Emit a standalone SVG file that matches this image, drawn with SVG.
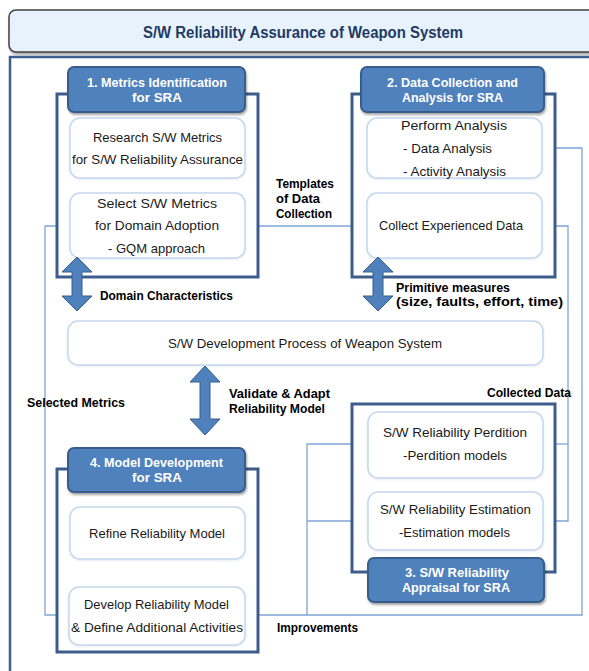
<svg xmlns="http://www.w3.org/2000/svg" width="589" height="671" viewBox="0 0 589 671">
<style>
.frame{fill:none;stroke:#3b5f8e;stroke-width:2.5}
.stage{fill:#fff;stroke:#3c5d8c;stroke-width:3}
.hdr{fill:#4f81bd;stroke:#385d8a;stroke-width:2}
.hdrt{font-family:"Liberation Sans",Arial,sans-serif;font-weight:bold;font-size:13.5px;fill:#fff;text-anchor:middle}
.box{fill:#fff;stroke:#c6d8ef;stroke-width:1.5}
.bt{font-family:"Liberation Sans",Arial,sans-serif;font-size:13px;fill:#1a1a1a}
.c{text-anchor:middle}
.lbl{font-family:"Liberation Sans",Arial,sans-serif;font-weight:bold;font-size:13px;fill:#000}
.con{fill:none;stroke:#7fa5d5;stroke-width:1.3}
.big{fill:#4f81bd;stroke:#385d8a;stroke-width:1}
</style>
<defs>
<marker id="ah" viewBox="0 0 10 10" refX="9" refY="5" markerWidth="10" markerHeight="10" markerUnits="userSpaceOnUse" orient="auto">
<path d="M1,1 L9,5 L1,9" fill="none" stroke="#7fa5d5" stroke-width="1.3"/>
</marker>
<filter id="sh" x="-10%" y="-10%" width="120%" height="130%">
<feDropShadow dx="1" dy="2" stdDeviation="1.2" flood-color="#000" flood-opacity="0.35"/>
</filter>
<filter id="ls" x="-10%" y="-10%" width="120%" height="130%">
<feDropShadow dx="0" dy="1" stdDeviation="1" flood-color="#8fa8c8" flood-opacity="0.25"/>
</filter>
</defs>
<rect width="589" height="671" fill="#fff"/>

<g id="title">
<rect x="9" y="10" width="600" height="42" rx="7" fill="#e8f2fc" stroke="#404040" stroke-width="1.5" filter="url(#sh)"/>
<text x="303" y="38" font-family="'Liberation Sans',Arial,sans-serif" font-weight="bold" font-size="16" fill="#1f3a63" text-anchor="middle" textLength="320" lengthAdjust="spacingAndGlyphs">S/W Reliability Assurance of Weapon System</text>
</g>

<rect class="frame" x="10" y="57" width="600" height="640"/>

<g id="connectors">
<line class="con" x1="157" y1="178" x2="157" y2="191" marker-end="url(#ah)"/>
<line class="con" x1="245" y1="226" x2="366" y2="226" marker-end="url(#ah)"/>
<line class="con" x1="454" y1="193" x2="454" y2="179" marker-end="url(#ah)"/>
<polyline class="con" points="542,148 582,148 582,615 246,615" marker-end="url(#ah)"/>
<polyline class="con" points="542,226 568,226 568,521 544,521" marker-end="url(#ah)"/>
<line class="con" x1="568" y1="444" x2="544" y2="444" marker-end="url(#ah)"/>
<polyline class="con" points="368,444 307,444 307,615"/>
<line class="con" x1="368" y1="521" x2="307" y2="521"/>
<polyline class="con" points="70,226 45,226 45,615 68,615" marker-end="url(#ah)"/>
<line class="con" x1="455" y1="478" x2="455" y2="491" marker-end="url(#ah)"/>
<line class="con" x1="157" y1="587" x2="157" y2="560" marker-end="url(#ah)"/>
<text class="lbl" x="276" y="188" textLength="58" lengthAdjust="spacingAndGlyphs">Templates</text>
<text class="lbl" x="276" y="203" textLength="44" lengthAdjust="spacingAndGlyphs">of Data</text>
<text class="lbl" x="276" y="218" textLength="56" lengthAdjust="spacingAndGlyphs">Collection</text>
<text class="lbl" x="100" y="300" textLength="133" lengthAdjust="spacingAndGlyphs">Domain Characteristics</text>
<text class="lbl" x="396" y="292" font-size="12" textLength="114" lengthAdjust="spacingAndGlyphs">Primitive measures</text>
<text class="lbl" x="396" y="306" font-size="12" textLength="167" lengthAdjust="spacingAndGlyphs">(size, faults, effort, time)</text>
<text class="lbl" x="229" y="398" textLength="101" lengthAdjust="spacingAndGlyphs">Validate &amp; Adapt</text>
<text class="lbl" x="229" y="413" textLength="96" lengthAdjust="spacingAndGlyphs">Reliability Model</text>
<text class="lbl" x="27" y="407" textLength="98" lengthAdjust="spacingAndGlyphs">Selected Metrics</text>
<text class="lbl" x="487" y="397" textLength="84" lengthAdjust="spacingAndGlyphs">Collected Data</text>
<text class="lbl" x="277" y="632" textLength="81" lengthAdjust="spacingAndGlyphs">Improvements</text>
<text class="bt" x="167" y="579" textLength="47" lengthAdjust="spacingAndGlyphs">tailoring</text>
</g>

<g id="stage1">
<rect class="stage" x="57" y="94" width="201" height="183"/>
<rect class="hdr" x="68" y="67" width="177" height="45" rx="6" filter="url(#sh)"/>
<text class="hdrt" x="157" y="87" textLength="140" lengthAdjust="spacingAndGlyphs">1. Metrics Identification</text>
<text class="hdrt" x="157" y="102" textLength="50" lengthAdjust="spacingAndGlyphs">for SRA</text>
</g>
<g id="research">
<rect class="box" x="70" y="118" width="175" height="60" rx="10" filter="url(#ls)"/>
<text class="bt c" x="157.5" y="142" textLength="129" lengthAdjust="spacingAndGlyphs">Research S/W Metrics</text>
<text class="bt c" x="157.5" y="164" textLength="171" lengthAdjust="spacingAndGlyphs">for S/W Reliability Assurance</text>
</g>
<g id="select">
<rect class="box" x="70" y="193" width="175" height="65" rx="10" filter="url(#ls)"/>
<text class="bt c" x="157" y="208" textLength="120" lengthAdjust="spacingAndGlyphs">Select  S/W Metrics</text>
<text class="bt c" x="157" y="230" textLength="124" lengthAdjust="spacingAndGlyphs">for Domain Adoption</text>
<text class="bt c" x="156.5" y="253" textLength="97" lengthAdjust="spacingAndGlyphs">- GQM approach</text>
</g>

<g id="stage2">
<rect class="stage" x="352" y="94" width="203" height="183"/>
<rect class="hdr" x="361" y="67" width="183" height="45" rx="6" filter="url(#sh)"/>
<text class="hdrt" x="452.5" y="87" textLength="131" lengthAdjust="spacingAndGlyphs">2. Data Collection and</text>
<text class="hdrt" x="452.5" y="102" textLength="101" lengthAdjust="spacingAndGlyphs">Analysis for SRA</text>
</g>
<g id="perform">
<rect class="box" x="367" y="118" width="175" height="60" rx="10" filter="url(#ls)"/>
<text class="bt" x="401" y="130" textLength="106" lengthAdjust="spacingAndGlyphs">Perform   Analysis</text>
<text class="bt" x="403" y="153" textLength="89" lengthAdjust="spacingAndGlyphs">- Data  Analysis</text>
<text class="bt" x="403" y="176" textLength="103" lengthAdjust="spacingAndGlyphs">- Activity  Analysis</text>
</g>
<g id="collect">
<rect class="box" x="367" y="193" width="175" height="65" rx="10" filter="url(#ls)"/>
<text class="bt c" x="451" y="230" textLength="144" lengthAdjust="spacingAndGlyphs">Collect  Experienced  Data</text>
</g>

<g id="process">
<rect class="box" x="68" y="321" width="475" height="44" rx="10" stroke="#dae5f3" filter="url(#ls)"/>
<text class="bt c" x="305" y="348" textLength="274" lengthAdjust="spacingAndGlyphs">S/W Development Process of Weapon System</text>
</g>

<g id="stage3">
<rect class="stage" x="352" y="404" width="203" height="168"/>
<rect class="hdr" x="368" y="558" width="176" height="44" rx="6" filter="url(#sh)"/>
<text class="hdrt" x="457" y="577" textLength="104" lengthAdjust="spacingAndGlyphs">3. S/W Reliability</text>
<text class="hdrt" x="456" y="592" textLength="108" lengthAdjust="spacingAndGlyphs">Appraisal for SRA</text>
</g>
<g id="perdition">
<rect class="box" x="368" y="412" width="175" height="66" rx="10" filter="url(#ls)"/>
<text class="bt c" x="455" y="437" textLength="144" lengthAdjust="spacingAndGlyphs">S/W Reliability Perdition</text>
<text class="bt c" x="455" y="460" textLength="104" lengthAdjust="spacingAndGlyphs">-Perdition models</text>
</g>
<g id="estimation">
<rect class="box" x="368" y="492" width="175" height="58" rx="10" filter="url(#ls)"/>
<text class="bt c" x="455.5" y="514" textLength="151" lengthAdjust="spacingAndGlyphs">S/W Reliability Estimation</text>
<text class="bt c" x="454.5" y="537" textLength="111" lengthAdjust="spacingAndGlyphs">-Estimation models</text>
</g>

<g id="stage4">
<rect class="stage" x="57" y="469" width="201" height="183"/>
<rect class="hdr" x="68" y="448" width="177" height="44" rx="6" filter="url(#sh)"/>
<text class="hdrt" x="156.5" y="467" textLength="133" lengthAdjust="spacingAndGlyphs">4. Model Development</text>
<text class="hdrt" x="157" y="482" textLength="50" lengthAdjust="spacingAndGlyphs">for SRA</text>
</g>
<g id="refine">
<rect class="box" x="70" y="507" width="175" height="52" rx="10" filter="url(#ls)"/>
<text class="bt c" x="157" y="538" textLength="136" lengthAdjust="spacingAndGlyphs">Refine Reliability Model</text>
</g>
<g id="develop">
<rect class="box" x="69" y="587" width="176" height="58" rx="10" filter="url(#ls)"/>
<text class="bt c" x="156.5" y="609" textLength="145" lengthAdjust="spacingAndGlyphs">Develop Reliability Model</text>
<text class="bt c" x="157" y="632" textLength="172" lengthAdjust="spacingAndGlyphs">&amp; Define Additional Activities</text>
</g>

<g id="big-arrows">
<path class="big" d="M77,257 L92,272 L82,272 L82,296 L92,296 L77,311 L62,296 L72,296 L72,272 L62,272 Z"/>
<path class="big" d="M378,257 L393,272 L383,272 L383,296 L393,296 L378,311 L363,296 L373,296 L373,272 L363,272 Z"/>
<path class="big" d="M205,366 L220,382 L210,382 L210,419 L220,419 L205,435 L190,419 L200,419 L200,382 L190,382 Z"/>
</g>
</svg>
